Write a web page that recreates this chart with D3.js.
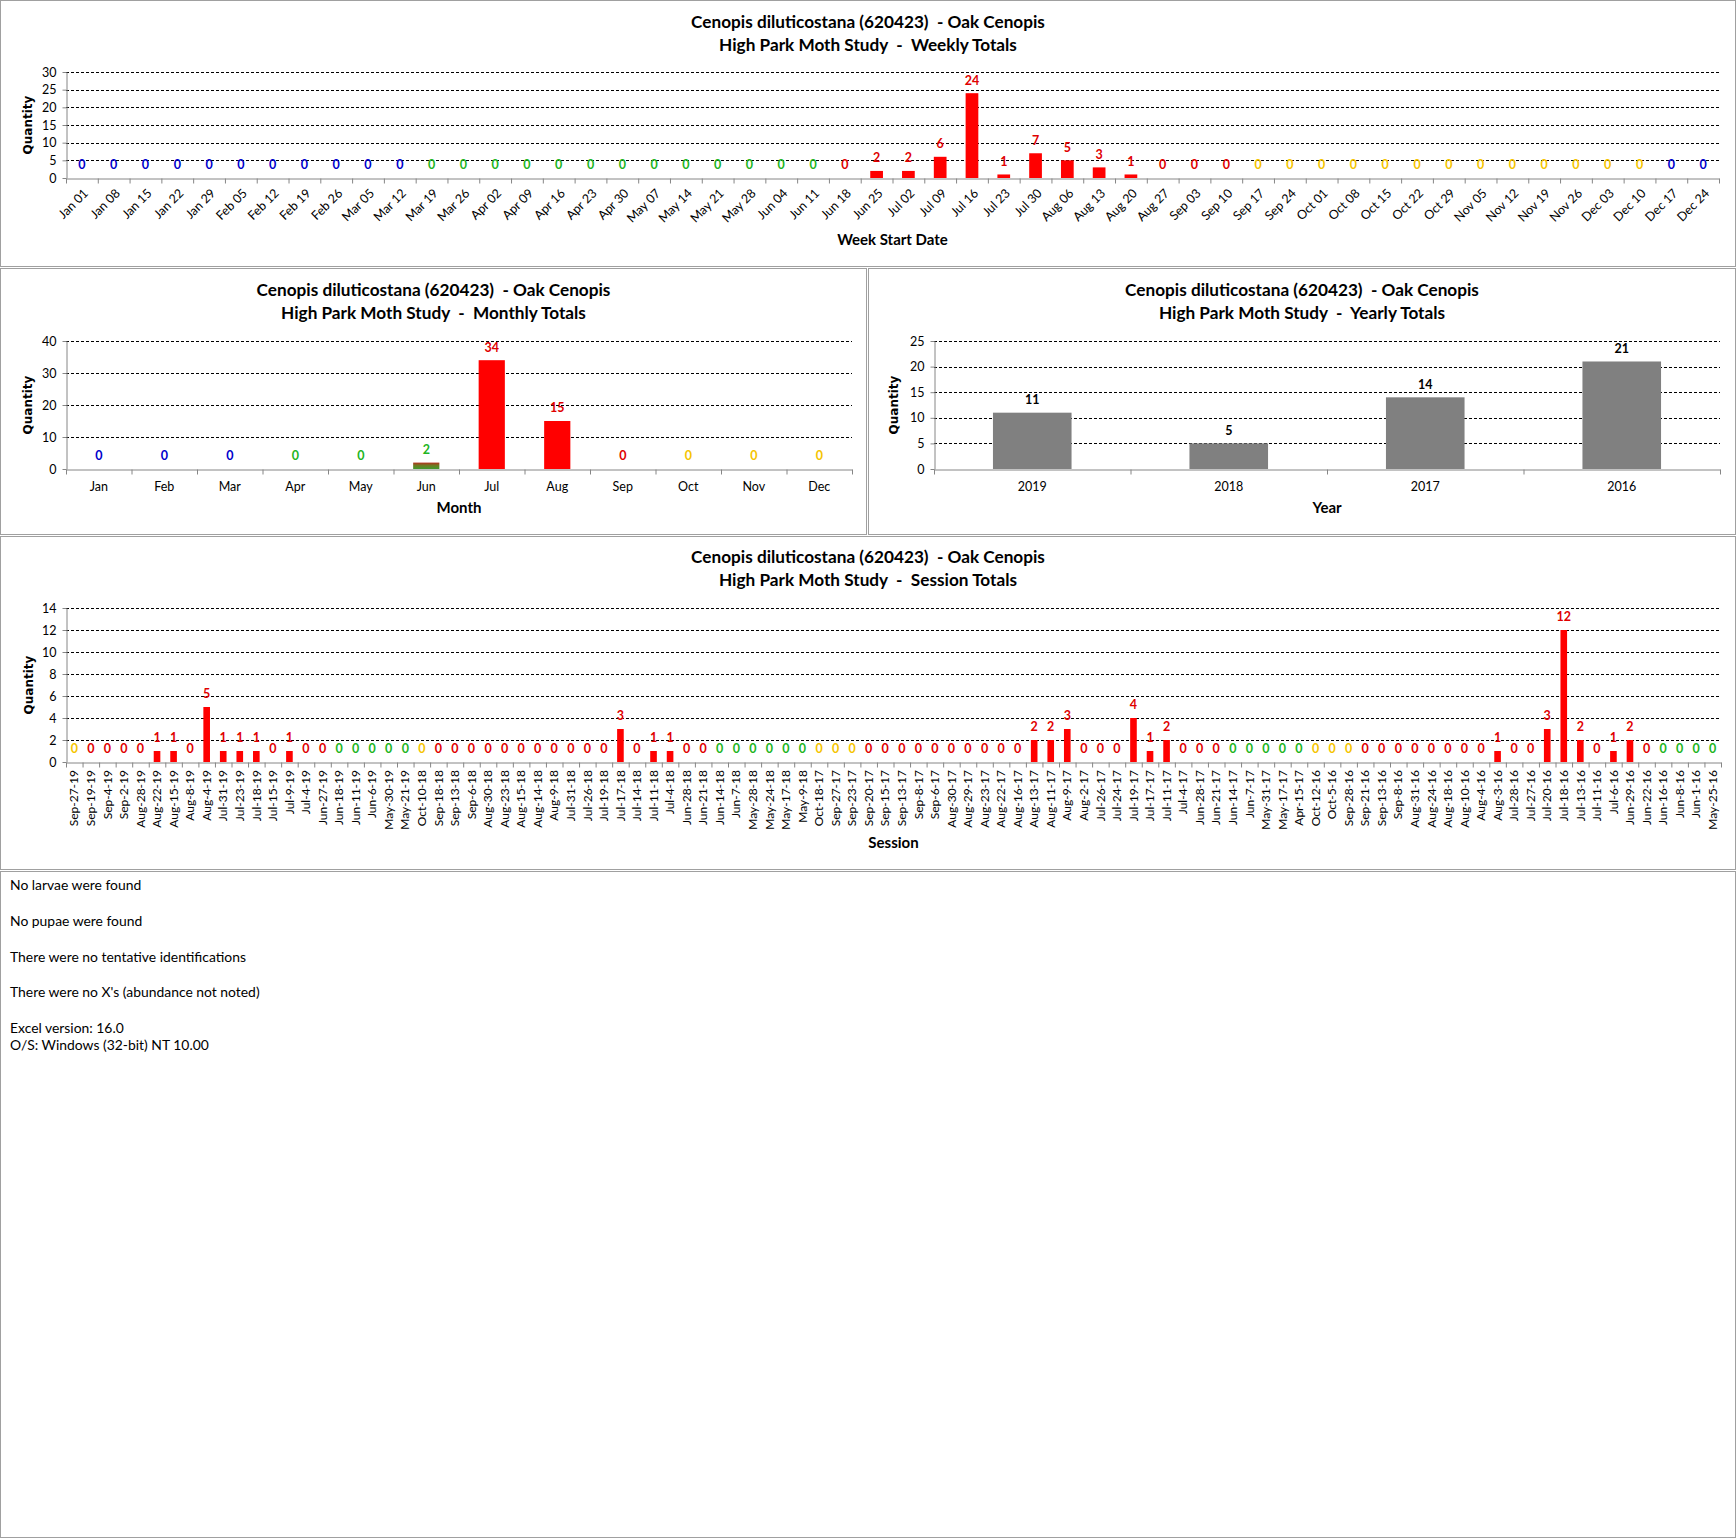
<!DOCTYPE html>
<html>
<head>
<meta charset="utf-8">
<script src="https://cdn.jsdelivr.net/npm/d3@7"></script>
<style>
  body { margin: 0; background: #fff; }
  text { font-family: Lato, "Open Sans", sans-serif; }
</style>
</head>
<body>
<svg id="page" width="1736" height="1538"></svg>
<script>
// ---- data ----
var speciesTitle = "Cenopis diluticostana (620423)  - Oak Cenopis";

var weekLabels = ["Jan 01","Jan 08","Jan 15","Jan 22","Jan 29","Feb 05","Feb 12","Feb 19","Feb 26",
  "Mar 05","Mar 12","Mar 19","Mar 26","Apr 02","Apr 09","Apr 16","Apr 23","Apr 30","May 07","May 14",
  "May 21","May 28","Jun 04","Jun 11","Jun 18","Jun 25","Jul 02","Jul 09","Jul 16","Jul 23","Jul 30",
  "Aug 06","Aug 13","Aug 20","Aug 27","Sep 03","Sep 10","Sep 17","Sep 24","Oct 01","Oct 08","Oct 15",
  "Oct 22","Oct 29","Nov 05","Nov 12","Nov 19","Nov 26","Dec 03","Dec 10","Dec 17","Dec 24"];
var weekValues = [0,0,0,0,0,0,0,0,0,0,0,0,0,0,0,0,0,0,0,0,0,0,0,0,
  0,2,2,6,24,1,7,5,3,1,0,0,0,
  0,0,0,0,0,0,0,0,0,0,0,0,0,0,0];

var monthLabels = ["Jan","Feb","Mar","Apr","May","Jun","Jul","Aug","Sep","Oct","Nov","Dec"];
var monthValues = [0,0,0,0,0,2,34,15,0,0,0,0];

var yearLabels = ["2019","2018","2017","2016"];
var yearValues = [11,5,14,21];

var sessionLabels = ["Sep-27-19","Sep-19-19","Sep-4-19","Sep-2-19","Aug-28-19","Aug-22-19","Aug-15-19",
  "Aug-8-19","Aug-4-19","Jul-31-19","Jul-23-19","Jul-18-19","Jul-15-19","Jul-9-19","Jul-4-19","Jun-27-19",
  "Jun-18-19","Jun-11-19","Jun-6-19","May-30-19","May-21-19","Oct-10-18","Sep-18-18","Sep-13-18","Sep-6-18",
  "Aug-30-18","Aug-23-18","Aug-15-18","Aug-14-18","Aug-9-18","Jul-31-18","Jul-26-18","Jul-19-18","Jul-17-18",
  "Jul-14-18","Jul-11-18","Jul-4-18","Jun-28-18","Jun-21-18","Jun-14-18","Jun-7-18","May-28-18","May-24-18",
  "May-17-18","May-9-18","Oct-18-17","Sep-27-17","Sep-23-17","Sep-20-17","Sep-15-17","Sep-13-17","Sep-8-17",
  "Sep-6-17","Aug-30-17","Aug-29-17","Aug-23-17","Aug-22-17","Aug-16-17","Aug-13-17","Aug-11-17","Aug-9-17",
  "Aug-2-17","Jul-26-17","Jul-24-17","Jul-19-17","Jul-17-17","Jul-11-17","Jul-4-17","Jun-28-17","Jun-21-17",
  "Jun-14-17","Jun-7-17","May-31-17","May-17-17","Apr-15-17","Oct-12-16","Oct-5-16","Sep-28-16","Sep-21-16",
  "Sep-13-16","Sep-8-16","Aug-31-16","Aug-24-16","Aug-18-16","Aug-10-16","Aug-4-16","Aug-3-16","Jul-28-16",
  "Jul-27-16","Jul-20-16","Jul-18-16","Jul-13-16","Jul-11-16","Jul-6-16","Jun-29-16","Jun-22-16","Jun-16-16",
  "Jun-8-16","Jun-1-16","May-25-16"];
var sessionValues = [0,0,0,0,0,1,1,0,5,1,1,1,0,1,0,0,0,0,0,0,0,
  0,0,0,0,0,0,0,0,0,0,0,0,3,0,1,1,0,0,0,0,0,0,0,0,
  0,0,0,0,0,0,0,0,0,0,0,0,0,2,2,3,0,0,0,4,1,2,0,0,0,0,0,0,0,0,
  0,0,0,0,0,0,0,0,0,0,0,1,0,0,3,12,2,0,1,2,0,0,0,0,0];

var notes = ["No larvae were found", "No pupae were found", "There were no tentative identifications",
  "There were no X's (abundance not noted)", "Excel version: 16.0", "O/S: Windows (32-bit) NT 10.00"];

// ---- season colouring (same rule as the spreadsheet) ----
var seasonColor = { winter: "#0000cc", spring: "#22b522", summer: "#e00000", fall: "#f5c400" };
var monNames = ["Jan","Feb","Mar","Apr","May","Jun","Jul","Aug","Sep","Oct","Nov","Dec"];

function seasonOf(m, d) {   // m = 1..12
  var md = m * 100 + d;
  if (md < 320) return "winter";
  if (md < 621) return "spring";
  if (md < 922) return "summer";
  if (md < 1221) return "fall";
  return "winter";
}
function weekSeason(label) {  // season of the last day of the week
  var p = label.split(" ");
  var end = new Date(2001, monNames.indexOf(p[0]), +p[1] + 6);
  return seasonOf(end.getMonth() + 1, end.getDate());
}
function sessionSeason(label) {
  var p = label.split("-");
  return seasonOf(monNames.indexOf(p[0]) + 1, +p[1]);
}
function monthSeason(i) {
  return ["winter", "spring", "summer", "fall"][Math.floor(i / 3)];
}

var svg = d3.select("#page");

// gradient used by Excel for the June bar (spring/summer blend)
var grad = svg.append("defs").append("linearGradient")
  .attr("id", "junGrad").attr("x1", 0).attr("y1", 0).attr("x2", 0).attr("y2", 1);
grad.append("stop").attr("offset", "0%").attr("stop-color", "#b5301c");
grad.append("stop").attr("offset", "45%").attr("stop-color", "#6f7a22");
grad.append("stop").attr("offset", "100%").attr("stop-color", "#3f9a2c");

function panelBox(p) {
  svg.append("rect")
    .attr("x", p.x + 0.5).attr("y", p.y + 0.5)
    .attr("width", p.w - 1).attr("height", p.h - 1)
    .attr("fill", "#fff").attr("stroke", "#a0a0a0").attr("stroke-width", 1);
}

function drawBarChart(o) {
  panelBox(o.panel);
  var cx = o.panel.x + o.panel.w / 2;

  // titles
  svg.append("text").attr("x", cx).attr("y", o.titleY[0]).attr("dy", "0.35em")
    .attr("text-anchor", "middle").style("font-size", "17.2px").style("font-weight", "bold")
    .style("white-space", "pre").attr("xml:space", "preserve")
    .text(speciesTitle);
  svg.append("text").attr("x", cx).attr("y", o.titleY[1]).attr("dy", "0.35em")
    .attr("text-anchor", "middle").style("font-size", "17.2px").style("font-weight", "bold")
    .style("white-space", "pre").attr("xml:space", "preserve")
    .text("High Park Moth Study  -  " + o.subtitle);

  var L = o.plot.left, R = o.plot.right, T = o.plot.top, B = o.plot.bottom;
  var n = o.cats.length;

  var x = d3.scaleBand().domain(d3.range(n)).range([L, R]).paddingInner(0.6).paddingOuter(0.3);
  var y = d3.scaleLinear().domain([0, o.yMax]).range([B, T]);
  var ticks = d3.range(0, o.yMax + 0.001, o.yStep);

  // dashed gridlines
  svg.append("g").selectAll("line").data(ticks.filter(function(t) { return t > 0; }))
    .enter().append("line")
    .attr("x1", L).attr("x2", R)
    .attr("y1", function(d) { return Math.round(y(d)) + 0.5; })
    .attr("y2", function(d) { return Math.round(y(d)) + 0.5; })
    .attr("stroke", "#000").attr("stroke-width", 1).attr("stroke-dasharray", "3,2");

  // y axis
  var ya = svg.append("g").attr("transform", "translate(" + (L + 0.5) + ",0)")
    .call(d3.axisLeft(y).tickValues(ticks).tickSize(4).tickSizeOuter(0).tickPadding(6));
  ya.select(".domain").attr("stroke", "#868686");
  ya.selectAll(".tick line").attr("stroke", "#868686");
  ya.selectAll(".tick text").style("font-size", "12.5px").style("font-family", "Lato, sans-serif").attr("fill", "#000");

  // bars
  svg.append("g").selectAll("rect").data(o.vals).enter().append("rect")
    .attr("x", function(d, i) { return x(i); })
    .attr("width", x.bandwidth())
    .attr("y", function(d) { return y(d); })
    .attr("height", function(d) { return B - y(d); })
    .attr("fill", function(d, i) { return o.barFill(i); });

  // x axis with boundary ticks
  var xb = d3.scaleLinear().domain([0, n]).range([L, R]);
  var xa = svg.append("g").attr("transform", "translate(0," + (B + 0.5) + ")")
    .call(d3.axisBottom(xb).tickValues(d3.range(0, n + 1)).tickSize(5).tickSizeOuter(0).tickFormat(""));
  xa.select(".domain").attr("stroke", "#868686");
  xa.selectAll(".tick line").attr("stroke", "#868686");

  // category labels
  var lab = svg.append("g").selectAll("text").data(o.cats).enter().append("text")
    .style("font-size", o.catFont).attr("fill", "#000")
    .text(function(d) { return d; });
  if (o.catMode === "rot45") {
    lab.attr("text-anchor", "end").attr("dy", "0.35em")
      .attr("transform", function(d, i) {
        return "translate(" + (x(i) + x.bandwidth() / 2 + 4) + "," + (B + 13) + ") rotate(-45)"; });
  } else if (o.catMode === "rot90") {
    lab.attr("text-anchor", "end").attr("dy", "0.35em")
      .attr("transform", function(d, i) {
        return "translate(" + (x(i) + x.bandwidth() / 2) + "," + (B + 8) + ") rotate(-90)"; });
  } else {
    lab.attr("text-anchor", "middle").attr("dy", "0.35em")
      .attr("x", function(d, i) { return x(i) + x.bandwidth() / 2; })
      .attr("y", B + 18);
  }

  // value labels
  svg.append("g").selectAll("text").data(o.vals).enter().append("text")
    .attr("x", function(d, i) { return x(i) + x.bandwidth() / 2; })
    .attr("y", function(d) { return y(d) - 13; })
    .attr("dy", "0.35em").attr("text-anchor", "middle")
    .style("font-size", "12.5px").style("font-weight", "bold")
    .attr("fill", function(d, i) { return o.labelColor(i); })
    .text(function(d) { return d; });

  // axis titles
  svg.append("text").attr("x", (L + R) / 2).attr("y", o.xTitleY).attr("dy", "0.35em")
    .attr("text-anchor", "middle").style("font-size", "15px").style("font-weight", "bold")
    .text(o.xTitle);
  svg.append("text")
    .attr("transform", "translate(" + o.yTitleX + "," + (T + B) / 2 + ") rotate(-90)")
    .attr("dy", "0.35em").attr("text-anchor", "middle")
    .style("font-family", "'DejaVu Sans', sans-serif").style("font-size", "12px").style("font-weight", "bold")
    .text("Quantity");
}

// weekly
drawBarChart({
  panel: { x: 0, y: 0, w: 1736, h: 267 },
  titleY: [22, 45], subtitle: "Weekly Totals",
  plot: { left: 66, right: 1719, top: 72, bottom: 178 },
  cats: weekLabels, vals: weekValues, yMax: 30, yStep: 5,
  catMode: "rot45", catFont: "12.5px",
  barFill: function() { return "#ff0000"; },
  labelColor: function(i) { return seasonColor[weekSeason(weekLabels[i])]; },
  xTitle: "Week Start Date", xTitleY: 240, yTitleX: 28
});

// monthly
drawBarChart({
  panel: { x: 0, y: 268, w: 867, h: 267 },
  titleY: [290, 313], subtitle: "Monthly Totals",
  plot: { left: 66, right: 852, top: 341, bottom: 469 },
  cats: monthLabels, vals: monthValues, yMax: 40, yStep: 10,
  catMode: "flat", catFont: "12.5px",
  barFill: function(i) { return monthLabels[i] === "Jun" ? "url(#junGrad)" : "#ff0000"; },
  labelColor: function(i) { return seasonColor[monthSeason(i)]; },
  xTitle: "Month", xTitleY: 508, yTitleX: 28
});

// yearly
drawBarChart({
  panel: { x: 868, y: 268, w: 868, h: 267 },
  titleY: [290, 313], subtitle: "Yearly Totals",
  plot: { left: 934, right: 1720, top: 341, bottom: 469 },
  cats: yearLabels, vals: yearValues, yMax: 25, yStep: 5,
  catMode: "flat", catFont: "12.5px",
  barFill: function() { return "#808080"; },
  labelColor: function() { return "#000"; },
  xTitle: "Year", xTitleY: 508, yTitleX: 894
});

// sessions
drawBarChart({
  panel: { x: 0, y: 536, w: 1736, h: 334 },
  titleY: [557, 580], subtitle: "Session Totals",
  plot: { left: 66, right: 1721, top: 608, bottom: 762 },
  cats: sessionLabels, vals: sessionValues, yMax: 14, yStep: 2,
  catMode: "rot90", catFont: "12px",
  barFill: function() { return "#ff0000"; },
  labelColor: function(i) { return seasonColor[sessionSeason(sessionLabels[i])]; },
  xTitle: "Session", xTitleY: 843, yTitleX: 29
});

// notes panel
panelBox({ x: 0, y: 871, w: 1736, h: 667 });
var noteY = [885, 921, 957, 992, 1028, 1045];
svg.append("g").selectAll("text").data(notes).enter().append("text")
  .attr("x", 10).attr("y", function(d, i) { return noteY[i]; }).attr("dy", "0.35em")
  .style("font-size", "13.9px").attr("fill", "#000")
  .text(function(d) { return d; });
</script>
</body>
</html>
